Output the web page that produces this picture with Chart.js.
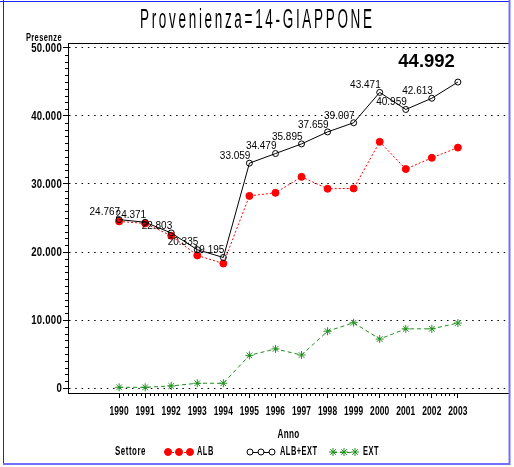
<!DOCTYPE html>
<html>
<head>
<meta charset="utf-8">
<script src="https://cdn.jsdelivr.net/npm/chart.js@4"></script>
<style>
  html, body { margin: 0; padding: 0; background: #fff; }
  #wrap { width: 514px; height: 467px; }
</style>
</head>
<body>
<div id="wrap"><canvas id="chart" width="514" height="467"></canvas></div>
<script>
// dati
const anni = [1990, 1991, 1992, 1993, 1994, 1995, 1996, 1997, 1998, 1999, 2000, 2001, 2002, 2003];
const alb = [24500, 24200, 22400, 19500, 18300, 28250, 28700, 31050, 29300, 29350, 36200, 32200, 33850, 35350];
const albExt = [24767, 24371, 22803, 20335, 19195, 33059, 34479, 35895, 37659, 39007, 43471, 40959, 42613, 44992];
const ext = [100, 100, 300, 700, 700, 4800, 5750, 4850, 8350, 9600, 7200, 8700, 8700, 9550];
const yTicks = [0, 10000, 20000, 30000, 40000, 50000];

const titolo = 'Provenienza=14-GIAPPONE';
const FONT = "'Liberation Sans', Arial, sans-serif";
const RED = '#ff0000', GREEN = '#1f8f1f';

function fmt(v) {
    if (v === 0) return '0';
    return String(v).replace(/\B(?=(\d{3})+(?!\d))/g, '.');
}

// testo stretto (compresso in orizzontale)
function narrow(ctx, txt, x, y, align, size, sx, spacing) {
    ctx.save();
    ctx.font = 'bold ' + size + 'px ' + FONT;
    ctx.letterSpacing = (spacing || 0) + 'px';
    ctx.textBaseline = 'middle';
    ctx.textAlign = 'left';
    const w = ctx.measureText(txt).width * sx;
    let x0 = x;
    if (align === 'right') x0 = x - w;
    else if (align === 'center') x0 = x - w / 2;
    ctx.translate(x0, y);
    ctx.scale(sx, 1);
    ctx.fillText(txt, 0, 0);
    ctx.restore();
}

//cornice, titolo, etichette, tacche minori, legenda
const extras = {
    id: 'extras',
    beforeDraw(chart) {
        const ctx = chart.ctx;
        ctx.save();
        ctx.fillStyle = '#fff';
        ctx.fillRect(0, 0, chart.width, chart.height);
        ctx.restore();
    },
    afterDraw(chart) {
        const ctx = chart.ctx;
        const a = chart.chartArea;
        const x = chart.scales.x, y = chart.scales.y;
        ctx.save();

        // linea superiore del riquadro
        ctx.strokeStyle = '#000';
        ctx.lineWidth = 1;
        ctx.beginPath();
        ctx.moveTo(a.left, a.top + 0.5);
        ctx.lineTo(a.right, a.top + 0.5);
        ctx.stroke();

        // tacche minori asse y (ogni 1000)
        ctx.beginPath();
        for (let v = 1000; v < 50000; v += 1000) {
            if (v % 10000 === 0) continue;
            const py = Math.round(y.getPixelForValue(v)) + 0.5;
            ctx.moveTo(a.left - 3, py);
            ctx.lineTo(a.left, py);
        }
        // tacche minori asse x
        for (let i = 0; i < anni.length - 1; i++) {
            for (let k = 1; k < 6; k++) {
                const px = Math.round(x.getPixelForValue(anni[i] + k / 6)) + 0.5;
                ctx.moveTo(px, a.bottom);
                ctx.lineTo(px, a.bottom + 3);
            }
        }
        ctx.stroke();
        ctx.fillStyle = '#000';

        // etichette assi
        yTicks.forEach(v => narrow(ctx, fmt(v), a.left - 6, y.getPixelForValue(v) + 0.5, 'right', 12, 0.8, 0.3));
        anni.forEach(v => narrow(ctx, String(v), x.getPixelForValue(v), a.bottom + 19, 'center', 12, 0.7, 0.2));
        narrow(ctx, 'Anno', (a.left + a.right) / 2, 435, 'center', 12, 0.68, 0.5);
        narrow(ctx, 'Presenze', 62, 38, 'right', 11, 0.68, 0.6);

        // titolo
        const sx = 0.5;
        ctx.save();
        ctx.font = '27px ' + FONT;
        const w0 = ctx.measureText(titolo).width;
        const L = (232 / sx - w0) / (titolo.length - 1);
        ctx.translate(140, 28);
        ctx.scale(sx, 1);
        ctx.letterSpacing = L + 'px';
        ctx.textAlign = 'left';
        ctx.textBaseline = 'alphabetic';
        ctx.fillText(titolo, 0, 0);
        ctx.restore();

        // legenda
        const ly = 452;
        narrow(ctx, 'Settore', 115, ly, 'left', 12, 0.66, 0.8);
        const items = [
            { x0: 166, txt: 'ALB', tx: 197, color: RED, dash: [2, 2], style: 'circle', r: 3.5, fill: RED },
            { x0: 248, txt: 'ALB+EXT', tx: 280, color: '#000', dash: [], style: 'circle', r: 3, fill: '#fff' },
            { x0: 331, txt: 'EXT', tx: 363, color: GREEN, dash: [4, 3], style: 'star', r: 4, fill: GREEN }
        ];
        items.forEach(it => {
            ctx.save();
            ctx.strokeStyle = it.color;
            ctx.setLineDash(it.dash);
            ctx.beginPath();
            ctx.moveTo(it.x0 + 2, ly + 0.5);
            ctx.lineTo(it.x0 + 24, ly + 0.5);
            ctx.stroke();
            ctx.setLineDash([]);
            ctx.fillStyle = it.fill;
            ctx.lineWidth = 1;
            [2, 13, 24].forEach(dx => {
                Chart.helpers.drawPoint(ctx, { pointStyle: it.style, radius: it.r, borderWidth: 1, rotation: 0 }, it.x0 + dx, ly);
            });
            ctx.restore();
            ctx.fillStyle = '#000';
            narrow(ctx, it.txt, it.tx, ly, 'left', 12, 0.62, 0.8);
        });

        // bordo blu
        ctx.strokeStyle = '#2020ff';
        ctx.lineWidth = 1;
        ctx.beginPath();
        ctx.moveTo(3.5, 0);
        ctx.lineTo(3.5, 463);
        ctx.moveTo(0, 1.5);
        ctx.lineTo(510, 1.5);
        ctx.stroke();
        ctx.strokeStyle = '#7070ff';
        ctx.lineWidth = 2;
        ctx.beginPath();
        ctx.moveTo(509.5, 0);
        ctx.lineTo(509.5, 465);
        ctx.moveTo(3, 464);
        ctx.lineTo(510, 464);
        ctx.stroke();

        ctx.restore();
    },
    afterDatasetsDraw(chart) {
        // valori sopra la serie ALB+EXT
        const ctx = chart.ctx;
        const meta = chart.getDatasetMeta(1);
        ctx.save();
        ctx.fillStyle = '#000';
        meta.data.forEach((pt, i) => {
            const last = i === albExt.length - 1;
            ctx.textAlign = 'right';
            ctx.textBaseline = 'bottom';
            if (last) {
                ctx.font = 'bold 18.5px ' + FONT;
                ctx.fillText(fmt(albExt[i]), pt.x - 3, pt.y - 11);
            } else {
                ctx.font = '10px ' + FONT;
                ctx.fillText(fmt(albExt[i]), pt.x + 1, pt.y - 2);
            }
        });
        ctx.restore();
    }
};

Chart.defaults.font.family = FONT;
Chart.defaults.color = '#000';

const ctx = document.getElementById('chart').getContext('2d');
new Chart(ctx, {
    type: 'line',
    data: {
        labels: anni,
        datasets: [{
            label: 'ALB',
            data: anni.map((a, i) => ({ x: a, y: alb[i] })),
            borderColor: RED,
            backgroundColor: RED,
            borderWidth: 1,
            borderDash: [2, 2],
            pointStyle: 'circle',
            pointRadius: 3.5,
            pointBorderWidth: 1,
            order: 2
        }, {
            label: 'ALB+EXT',
            data: anni.map((a, i) => ({ x: a, y: albExt[i] })),
            borderColor: '#000',
            backgroundColor: 'rgba(0,0,0,0)',
            pointBackgroundColor: 'rgba(0,0,0,0)',
            borderWidth: 1,
            pointStyle: 'circle',
            pointRadius: 3,
            pointBorderWidth: 1,
            order: 1
        }, {
            label: 'EXT',
            data: anni.map((a, i) => ({ x: a, y: ext[i] })),
            borderColor: GREEN,
            backgroundColor: GREEN,
            borderWidth: 1,
            borderDash: [4, 3],
            pointStyle: 'star',
            pointRadius: 4,
            pointBorderWidth: 1,
            order: 3
        }]
    },
    options: {
        responsive: false,
        animation: false,
        events: [],
        layout: { padding: { top: 43, right: 5, left: 0, bottom: 0 } },
        plugins: {
            legend: { display: false },
            tooltip: { enabled: false },
            title: { display: false }
        },
        scales: {
            x: {
                type: 'linear',
                min: 1990 - 51 / 26,
                max: 1990 + 389 / 26,
                afterBuildTicks: s => { s.ticks = anni.map(v => ({ value: v })); },
                afterFit: s => { s.height = 74; },
                ticks: { display: false, autoSkip: false, maxRotation: 0 },
                grid: { drawOnChartArea: false, drawTicks: true, tickLength: 5, tickColor: '#000', tickWidth: 1 },
                border: { display: true, color: '#000', width: 1 }
            },
            y: {
                min: -735,
                max: 50735,
                afterBuildTicks: s => { s.ticks = yTicks.map(v => ({ value: v })); },
                afterFit: s => { s.width = 68; },
                ticks: { display: false },
                grid: {
                    color: '#000',
                    lineWidth: 1,
                    drawTicks: true,
                    tickLength: 5,
                    tickColor: '#000',
                    tickBorderDash: []
                },
                border: { display: true, color: '#000', width: 1, dash: [1.5, 4.8] }
            }
        }
    },
    plugins: [extras]
});
</script>
</body>
</html>
